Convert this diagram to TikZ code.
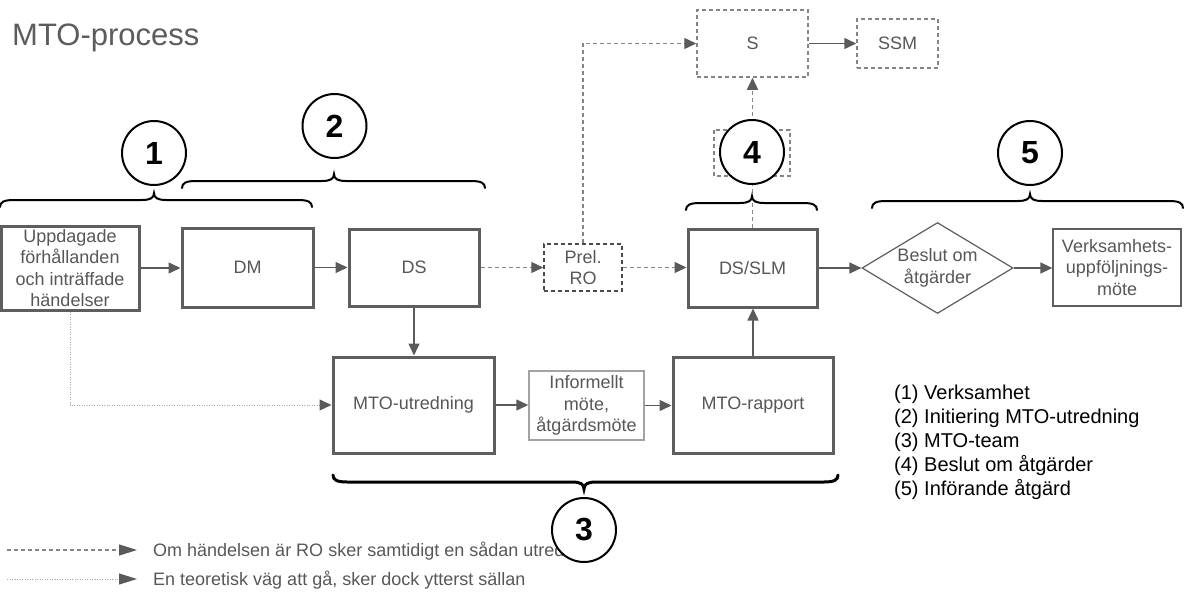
\documentclass[tikz,border=0pt]{standalone}
\usepackage{fontspec}
\setmainfont{Liberation Sans}
\usetikzlibrary{arrows.meta,shapes.geometric}

\definecolor{boxgray}{HTML}{5E5E5E}
\definecolor{txtgray}{HTML}{575757}
\definecolor{arrgray}{HTML}{5A5A5A}
\definecolor{dashgray}{HTML}{858585}
\definecolor{prelgray}{HTML}{4A4A4A}
\definecolor{dotgray}{HTML}{AAAAAA}
\definecolor{lightedge}{HTML}{A3A3A3}
\definecolor{titlegray}{HTML}{5C5C5C}

\newcommand\boxfont{\fontsize{18}{21.5}\selectfont}
\newcommand\notefont{\fontsize{18}{21}\selectfont}
\newcommand\keyfont{\fontsize{20}{24}\selectfont}
\newcommand\markfont{\fontsize{32}{32}\selectfont\bfseries}

% curly bracket: x0, x1, x of tip, y of main line, +1 (tip up) or -1 (tip down)
\newcommand\curlybracket[6][]{%
  \draw[bracket,#1] (#2,{#5+7*(#6)}) .. controls (#2,{#5+2*(#6)}) and ({#2+4},#5) .. ({#2+14},#5)
    -- ({#4-12},#5) .. controls ({#4-4},#5) and (#4,{#5-2*(#6)}) .. (#4,{#5-7*(#6)})
    .. controls (#4,{#5-2*(#6)}) and ({#4+4},#5) .. ({#4+12},#5)
    -- ({#3-14},#5) .. controls ({#3-4},#5) and (#3,{#5+2*(#6)}) .. (#3,{#5+7*(#6)});}

\tikzset{
  procbox/.style={draw=boxgray, line width=3pt, fill=white, text=txtgray,
    font=\boxfont, align=center, inner sep=0pt},
  thinbox/.style={procbox, line width=1.3pt},
  lightbox/.style={procbox, draw=lightedge, line width=1.5pt},
  dashbox/.style={procbox, draw=dashgray, line width=1.5pt, dash pattern=on 4pt off 3pt},
  prelbox/.style={procbox, draw=prelgray, line width=1.5pt, dash pattern=on 4pt off 3pt},
  flow/.style={draw=arrgray, line width=1.5pt, -{Triangle[length=12pt,width=11pt]}},
  dashflow/.style={draw=dashgray, line width=1.3pt, dash pattern=on 4pt off 3pt,
    -{Triangle[length=12pt,width=11pt,color=arrgray]}},
  dotflow/.style={draw=dotgray, line width=1pt, dash pattern=on 1pt off 1.5pt,
    -{Triangle[length=12pt,width=11pt,color=arrgray]}},
  keyarrow/.style={-{Triangle[length=18pt,width=11pt,color=arrgray]}},
  bracket/.style={draw=black, line width=2pt, line cap=round},
  marker/.style={circle, draw=black, line width=2pt, fill=white,
    minimum size=64pt, inner sep=0pt, font=\markfont},
  note/.style={text=txtgray, font=\notefont, inner sep=0pt},
  keyline/.style={text=black, font=\keyfont, inner sep=0pt, anchor=base west},
}

\begin{document}
\begin{tikzpicture}[x=1pt, y=-1pt]
\useasboundingbox (0,0) rectangle (1185,594);

% title
\node[anchor=base west, inner sep=0pt, text=titlegray,
  font=\fontsize{31}{36}\selectfont] (title) at (12,46) {MTO-process};

% main row
\node[procbox, minimum width=138pt, minimum height=84pt] (up) at (70,268)
  {Uppdagade\\förhållanden\\och inträffade\\händelser};
\node[procbox, minimum width=131pt, minimum height=79pt] (dm) at (247.5,267.5) {DM};
\node[procbox, minimum width=130pt, minimum height=77pt] (ds) at (414,267.5) {DS};
\node[prelbox, minimum width=78pt, minimum height=47pt] (prel) at (583,267.5) {Prel.\\RO};
\node[procbox, minimum width=129pt, minimum height=78pt] (dsslm) at (752.5,268) {DS/SLM};
\node[diamond, draw=boxgray, line width=1.2pt, fill=white, inner sep=0pt,
  minimum width=151pt, minimum height=91pt] (beslut) at (937.5,268) {};
\node[text=txtgray, font=\boxfont, align=center, inner sep=0pt] (besluttext)
  at (beslut.center) {Beslut om\\åtgärder};
\node[thinbox, minimum width=128pt, minimum height=77pt] (verk) at (1117,267.5)
  {Verksamhets-\\uppföljnings-\\möte};

% investigation row
\node[procbox, minimum width=161pt, minimum height=96pt] (mtou) at (413.5,405) {MTO-utredning};
\node[lightbox, minimum width=115pt, minimum height=69pt] (inf) at (586.5,405.5)
  {Informellt\\möte,\\åtgärdsmöte};
\node[procbox, minimum width=160pt, minimum height=96pt] (mtor) at (753,405) {MTO-rapport};

% top row
\node[dashbox, minimum width=111pt, minimum height=67pt] (S) at (752.5,43.5) {S};
\node[dashbox, minimum width=81pt, minimum height=49pt] (SSM) at (897.5,43.5) {SSM};

% connectors
\draw[flow] (up.east) -- (up.east -| dm.west);
\draw[flow] (dm.east) -- (dm.east -| ds.west);
\draw[dashflow] (ds.east) -- (ds.east -| prel.west);
\draw[dashflow] (prel.east) -- (prel.east -| dsslm.west);
\draw[flow] (dsslm.east) -- (beslut.west);
\draw[flow] (beslut.east) -- (beslut.east -| verk.west);
\draw[flow] (ds.south) -- (ds.south |- mtou.north);
\draw[flow] (mtou.east) -- (mtou.east -| inf.west);
\draw[flow] (inf.east) -- (inf.east -| mtor.west);
\draw[flow] (mtor.north) -- (mtor.north |- dsslm.south);
\draw[dashflow] (dsslm.north) -- (S.south);
\draw[dashflow] (prel.north) |- (S.west);
\draw[flow] (S.east) -- (S.east -| SSM.west);
\draw[dotflow] (up.south) |- (mtou.west);

% line-style key
\coordinate (k1a) at (7,550);  \coordinate (k1b) at (137,550);
\coordinate (k2a) at (7,579);  \coordinate (k2b) at (137,579);
\draw[dashflow, keyarrow] (k1a) -- (k1b);
\draw[dotflow, keyarrow] (k2a) -- (k2b);
\node[note, anchor=base west] (key1) at (153,556)
  {Om händelsen är RO sker samtidigt en sådan utredning};
\node[note, anchor=base west] (key2) at (153,585)
  {En teoretisk väg att gå, sker dock ytterst sällan};

% phase brackets
\curlybracket{0}{312}{154}{200}{1}
\curlybracket{182}{485}{334}{181}{1}
\curlybracket{686}{817}{752}{203}{1}
\curlybracket{872}{1183}{1030}{201}{1}
\curlybracket[line width=3pt]{333}{838}{584}{482}{-1}

% phase markers
\draw[draw=dashgray, line width=1.3pt, dash pattern=on 4pt off 3pt]
  (714,130) rectangle (790,176);
\node[marker] (m1) at (154,153) {1};
\node[marker] (m2) at (334.5,126) {2};
\node[marker] (m4) at (752,152) {4};
\node[marker] (m5) at (1030,153) {5};
\node[marker] (m3) at (584,530) {3};

% phase names
\node[keyline] (p1) at (894,399) {(1) Verksamhet};
\node[keyline] (p2) at (894,423) {(2) Initiering MTO-utredning};
\node[keyline] (p3) at (894,447) {(3) MTO-team};
\node[keyline] (p4) at (894,471) {(4) Beslut om åtgärder};
\node[keyline] (p5) at (894,495) {(5) Införande åtgärd};
\end{tikzpicture}
\end{document}
